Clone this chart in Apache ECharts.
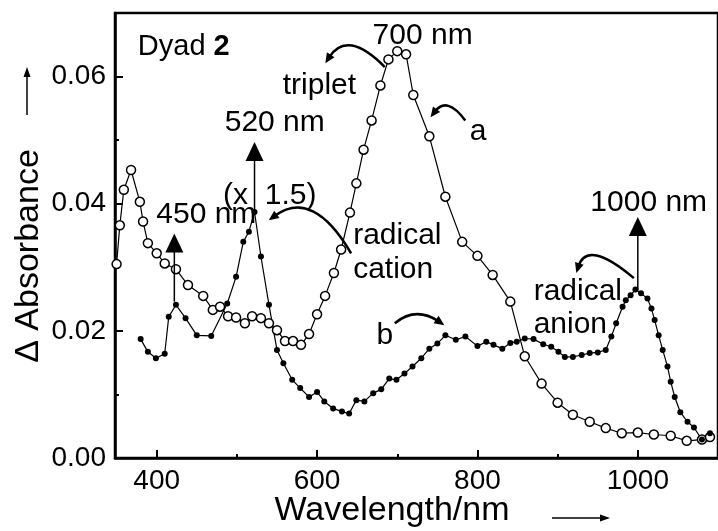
<!DOCTYPE html>
<html>
<head>
<meta charset="utf-8">
<script src="https://cdn.jsdelivr.net/npm/echarts@6/dist/echarts.min.js"></script>
<style>
  html, body { margin: 0; padding: 0; background: #fff; }
  #chart { width: 718px; height: 531px; }
</style>
</head>
<body>
<div id="chart"></div>
<script>
// curve a: open circles (triplet + radical cation)
const wlA = [350, 354, 359, 368, 379, 383, 389, 400, 410, 424, 439, 458, 470, 479, 489, 499, 510, 519, 530, 540,
  550, 560, 570, 580, 590, 600, 610, 621, 630, 641, 649, 658, 668, 679, 689, 700, 711, 720, 740, 760,
  781, 800, 819, 841, 859, 880, 900, 919, 940, 960, 980, 1000, 1020, 1041, 1061, 1080, 1090]
const absA = [0.0305, 0.0366, 0.0422, 0.0453, 0.0403, 0.0372, 0.0338, 0.0322, 0.0306, 0.0297, 0.0272, 0.0255, 0.0233, 0.0238, 0.0223, 0.0221, 0.0212, 0.0223, 0.0220, 0.0212,
  0.0201, 0.0184, 0.0184, 0.0178, 0.0195, 0.0226, 0.0255, 0.0291, 0.0328, 0.0386, 0.0432, 0.0485, 0.0531, 0.0586, 0.0627, 0.0640, 0.0635, 0.0571, 0.0506, 0.0411,
  0.0340, 0.0318, 0.0288, 0.0246, 0.0160, 0.0117, 0.0087, 0.0068, 0.0057, 0.0047, 0.0039, 0.0040, 0.0037, 0.0035, 0.0027, 0.0029, 0.0033]

// curve b: filled dots (radical anion, x 1.5)
const wlB = [380, 389, 399, 410, 415, 424, 436, 450, 468, 488, 499, 508, 515, 522, 530, 540, 550, 558, 569, 579,
  590, 600, 609, 620, 631, 640, 649, 659, 670, 680, 690, 699, 709, 719, 730, 740, 750, 760, 773, 785,
  800, 811, 820, 831, 841, 849, 859, 870, 882, 892, 901, 909, 919, 930, 940, 950, 960, 967, 973, 981,
  985, 991, 997, 1004, 1012, 1017, 1021, 1026, 1031, 1037, 1041, 1046, 1053, 1062, 1070, 1080, 1090]
const absB = [0.0187, 0.0167, 0.0157, 0.0164, 0.0222, 0.0241, 0.0220, 0.0193, 0.0192, 0.0243, 0.0285, 0.0340, 0.0356, 0.0387, 0.0317, 0.0241, 0.0170, 0.0149, 0.0123, 0.0110,
  0.0096, 0.0104, 0.0089, 0.0078, 0.0073, 0.0070, 0.0091, 0.0089, 0.0102, 0.0108, 0.0125, 0.0123, 0.0133, 0.0144, 0.0157, 0.0172, 0.0180, 0.0193, 0.0186, 0.0191,
  0.0176, 0.0183, 0.0178, 0.0172, 0.0181, 0.0183, 0.0188, 0.0187, 0.0179, 0.0175, 0.0167, 0.0159, 0.0159, 0.0162, 0.0165, 0.0166, 0.0170, 0.0191, 0.0212, 0.0238,
  0.0248, 0.0256, 0.0265, 0.0259, 0.0251, 0.0235, 0.0217, 0.0193, 0.0170, 0.0144, 0.0120, 0.0096, 0.0072, 0.0057, 0.0048, 0.0029, 0.0039]

const xTicks = [400, 600, 800, 1000]
const xMinorTicks = [500, 700, 900]
const yTicks = [0, 0.02, 0.04, 0.06]
const yMinorTicks = [0.01, 0.03, 0.05]

const FONT = '"Liberation Sans", Arial, sans-serif'
const chart = echarts.init(document.getElementById('chart'))

const axisLine = { lineStyle: { color: '#000', width: 2.5 } }
const tickStyle = { color: '#000', width: 2 }

const option = {
  animation: false,
  backgroundColor: '#fff',
  grid: {
    left: 115, right: -5, top: 13, bottom: 73,
    show: true, borderColor: '#000', borderWidth: 2.5
  },
  xAxis: [
    {
      type: 'value', min: 348, max: 1100,
      splitLine: { show: false },
      axisLine: axisLine,
      axisTick: { inside: true, length: 8, lineStyle: tickStyle, customValues: xTicks },
      axisLabel: {
        margin: 9, color: '#000', fontSize: 28, fontFamily: FONT,
        customValues: xTicks, formatter: (v) => String(v)
      }
    },
    {
      type: 'value', min: 348, max: 1100, position: 'bottom',
      splitLine: { show: false },
      axisLine: { show: false },
      axisLabel: { show: false },
      axisTick: { inside: true, length: 4, lineStyle: tickStyle, customValues: xMinorTicks }
    }
  ],
  yAxis: [
    {
      type: 'value', min: 0, max: 0.07,
      splitLine: { show: false },
      axisLine: axisLine,
      axisTick: { inside: true, length: 8, lineStyle: tickStyle, customValues: yTicks },
      axisLabel: {
        margin: 9, color: '#000', fontSize: 28, fontFamily: FONT,
        customValues: yTicks, formatter: (v) => v.toFixed(2)
      }
    },
    {
      type: 'value', min: 0, max: 0.07, position: 'left',
      splitLine: { show: false },
      axisLine: { show: false },
      axisLabel: { show: false },
      axisTick: { inside: true, length: 4, lineStyle: tickStyle, customValues: yMinorTicks }
    }
  ],
  series: [
    {
      name: 'a',
      type: 'line',
      data: wlA.map((w, i) => [w, absA[i]]),
      symbol: 'circle',
      symbolSize: 9,
      itemStyle: { color: '#fff', borderColor: '#000', borderWidth: 1.5 },
      lineStyle: { color: '#000', width: 1.2 }
    },
    {
      name: 'b',
      type: 'line',
      data: wlB.map((w, i) => [w, absB[i]]),
      symbol: 'circle',
      symbolSize: 6,
      itemStyle: { color: '#000' },
      lineStyle: { color: '#000', width: 1.2 }
    }
  ]
}
chart.setOption(option)

// annotations, placed in data coordinates
function px (x, y) {
  return chart.convertToPixel({ xAxisIndex: 0, yAxisIndex: 0 }, [x, y])
}
function text (str, p, align, size) {
  return {
    type: 'text', x: p[0], y: p[1], z: 10,
    style: { text: str, fill: '#000', font: (size || 30) + 'px ' + FONT, align: align || 'center', verticalAlign: 'middle' }
  }
}
function label (str, x, y, align) {
  return text(str, px(x, y), align)
}
function head (tip, ux, uy, len, half) {
  const bx = tip[0] - ux * len
  const by = tip[1] - uy * len
  return {
    type: 'polygon', z: 10,
    shape: { points: [tip, [bx - uy * half, by + ux * half], [bx + uy * half, by - ux * half]] },
    style: { fill: '#000' }
  }
}
function straightArrow (p0, p1, len, half, width) {
  const dx = p1[0] - p0[0]
  const dy = p1[1] - p0[1]
  const d = Math.hypot(dx, dy)
  const ux = dx / d
  const uy = dy / d
  return [
    { type: 'line', z: 10, shape: { x1: p0[0], y1: p0[1], x2: p1[0] - ux * (len - 2), y2: p1[1] - uy * (len - 2) }, style: { stroke: '#000', lineWidth: width } },
    head(p1, ux, uy, len, half)
  ]
}
function upArrow (x, y0, y1) {
  return straightArrow(px(x, y0), px(x, y1), 19, 9, 1.5)
}
function curveArrow (s, c, e) {
  const p0 = px(s[0], s[1])
  const p1 = px(c[0], c[1])
  const p2 = px(e[0], e[1])
  const dx = p2[0] - p1[0]
  const dy = p2[1] - p1[1]
  const d = Math.hypot(dx, dy)
  const ux = dx / d
  const uy = dy / d
  return [
    {
      type: 'bezierCurve', z: 10,
      shape: { x1: p0[0], y1: p0[1], cpx1: p1[0], cpy1: p1[1], x2: p2[0] - ux * 7, y2: p2[1] - uy * 7 },
      style: { stroke: '#000', lineWidth: 2.5, fill: null }
    },
    head(p2, ux, uy, 10, 4.5)
  ]
}

const dyad = px(376.5, 0.0646)
const graphic = [
  {
    type: 'text', x: dyad[0], y: dyad[1], z: 10,
    style: {
      text: 'Dyad {b|2}', fill: '#000', font: '29px ' + FONT, align: 'left', verticalAlign: 'middle',
      rich: { b: { fontWeight: 'bold', fontSize: 29, fontFamily: FONT } }
    }
  },
  label('700 nm', 731.6, 0.0665),
  label('triplet', 602.9, 0.0585),
  label('520 nm', 547.2, 0.0527),
  label('(x  1.5)', 541, 0.0412),
  label('450 nm', 461.9, 0.0382),
  label('a', 800.8, 0.0513),
  label('radical', 645, 0.0349, 'left'),
  label('cation', 645, 0.0296, 'left'),
  label('b', 684.5, 0.0193),
  label('1000 nm', 1013.6, 0.0401),
  label('radical', 870.1, 0.0262, 'left'),
  label('anion', 870.1, 0.0209, 'left'),
  ...upArrow(422, 0.0246, 0.0353),
  ...upArrow(522, 0.0387, 0.0497),
  ...upArrow(1000, 0.0264, 0.0379),
  ...curveArrow([684.5, 0.0615], [637.5, 0.0675], [610.3, 0.0621]),
  ...curveArrow([784.8, 0.0531], [761.9, 0.0570], [741.5, 0.0536]),
  ...curveArrow([642.5, 0.0322], [594.9, 0.0425], [539.8, 0.0374]),
  ...curveArrow([696.9, 0.0212], [722.9, 0.0239], [758.8, 0.0209]),
  ...curveArrow([995.1, 0.0283], [936.9, 0.0345], [923.3, 0.0291]),
  // axis titles with their arrows
  { ...text('Δ Absorbance', [29, 256], 'center', 34), rotation: Math.PI / 2 },
  ...straightArrow([27, 115], [27, 67], 10, 3.5, 1.5),
  text('Wavelength/nm', [392, 511], 'center', 34),
  ...straightArrow([552, 518], [610, 518], 10, 3.5, 1.5)
]
chart.setOption({ graphic: graphic })
</script>
</body>
</html>
